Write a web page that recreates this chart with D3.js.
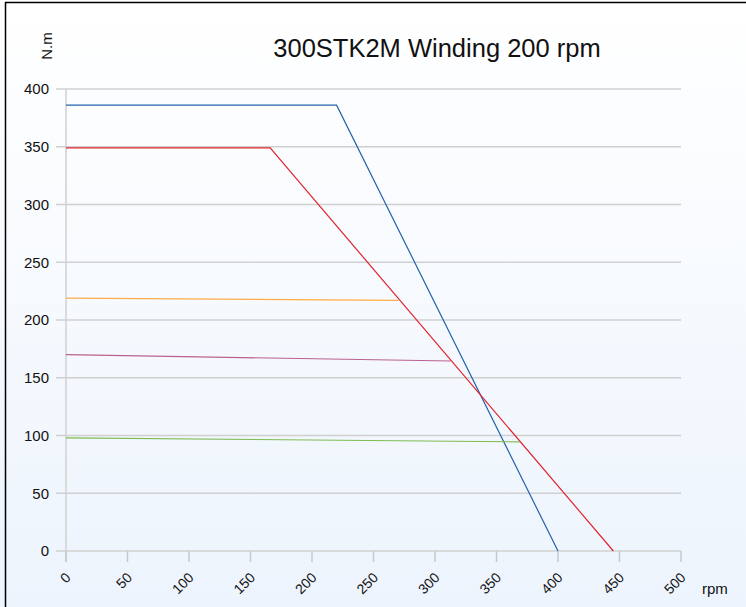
<!DOCTYPE html>
<html><head><meta charset="utf-8">
<script src="https://cdn.jsdelivr.net/npm/d3@7/dist/d3.min.js"></script>
<style>html,body{margin:0;padding:0;background:#fff;}svg{display:block;}</style>
</head><body>
<script>
const title = "300STK2M Winding 200 rpm";
const yUnit = "N.m";
const xUnit = "rpm";
const xTicks = [0,50,100,150,200,250,300,350,400,450,500];
const yTicks = [0,50,100,150,200,250,300,350,400];
const seriesColors = ["#2462aa","#e0242e","#ffab47","#b9608f","#7dbb4f"];
const blueRpm = [0,220,400];
const blueTorque = [386,386,0];
const redRpm = [0,166,445];
const redTorque = [349,349,0];
const orangeRpm = [0,270];
const orangeTorque = [219,217];
const purpleRpm = [0,313];
const purpleTorque = [170,164.5];
const greenRpm = [0,369];
const greenTorque = [98,94.5];

const W=746,H=607;
const svg=d3.select("body").append("svg").attr("width",W).attr("height",H);
const defs=svg.append("defs");
const g=defs.append("linearGradient").attr("id","bg").attr("x1",0).attr("y1",0).attr("x2",0).attr("y2",1);
g.append("stop").attr("offset","0%").attr("stop-color","#ffffff");
g.append("stop").attr("offset","100%").attr("stop-color","#edf4fd");
svg.append("rect").attr("x",0).attr("y",0).attr("width",W).attr("height",H).attr("fill","url(#bg)");
// frame
svg.append("line").attr("x1",5).attr("x2",746).attr("y1",2.5).attr("y2",2.5).attr("stroke","#000").attr("stroke-width",1.5);
svg.append("line").attr("x1",5.5).attr("x2",5.5).attr("y1",2).attr("y2",607).attr("stroke","#000").attr("stroke-width",1.5);

const x=d3.scaleLinear().domain([0,500]).range([66,681]);
const y=d3.scaleLinear().domain([0,400]).range([551,89]);
const font="'Liberation Sans', Arial, sans-serif";

// grid
svg.append("g").selectAll("line").data(yTicks).join("line")
  .attr("x1",56).attr("x2",x(500)).attr("y1",d=>y(d)).attr("y2",d=>y(d))
  .attr("stroke","#d0d0d0").attr("stroke-width",1.5);
// y axis line
svg.append("line").attr("x1",x(0)).attr("x2",x(0)).attr("y1",y(400)).attr("y2",562).attr("stroke","#d0d0d0").attr("stroke-width",1.5);
// x ticks
svg.append("g").selectAll("line").data(xTicks).join("line")
  .attr("x1",d=>x(d)).attr("x2",d=>x(d)).attr("y1",y(0)).attr("y2",562)
  .attr("stroke","#c8c8c8").attr("stroke-width",1.5);

// y labels
svg.append("g").selectAll("text").data(yTicks).join("text")
  .attr("x",49).attr("y",d=>y(d)).attr("dy","0.35em").attr("text-anchor","end")
  .attr("font-family",font).attr("font-size",15).attr("fill","#111").text(d=>d);
// x labels
svg.append("g").selectAll("text").data(xTicks).join("text")
  .attr("transform",d=>`translate(${x(d)+2},${575}) rotate(-45)`)
  .attr("text-anchor","end").attr("dy","0.35em")
  .attr("font-family",font).attr("font-size",14).attr("fill","#111").text(d=>d);

// lines
const line=d3.line().x(d=>x(d[0])).y(d=>y(d[1]));
const series=[[blueRpm,blueTorque],[redRpm,redTorque],[orangeRpm,orangeTorque],[purpleRpm,purpleTorque],[greenRpm,greenTorque]];
svg.append("g").selectAll("path").data(series).join("path")
  .attr("d",s=>line(s[0].map((r,i)=>[r,s[1][i]])))
  .attr("fill","none").attr("stroke",(s,i)=>seriesColors[i]).attr("stroke-width",1.2);

// titles
svg.append("text").attr("x",437).attr("y",57).attr("text-anchor","middle")
  .attr("font-family",font).attr("font-size",25.5).attr("fill","#111").text(title);
svg.append("text").attr("transform","translate(52,46) rotate(-90)").attr("text-anchor","middle")
  .attr("font-family",font).attr("font-size",15).attr("fill","#111").text(yUnit);
svg.append("text").attr("x",702).attr("y",594)
  .attr("font-family",font).attr("font-size",15).attr("fill","#111").text(xUnit);
</script>
</body></html>
